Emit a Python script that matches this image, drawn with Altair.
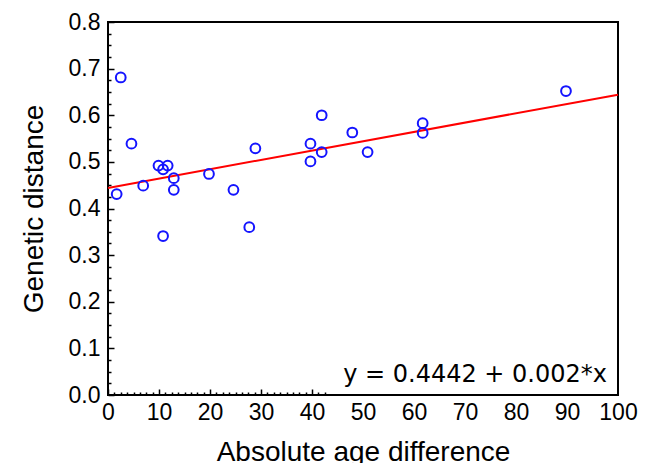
import altair as alt
import pandas as pd

# Data
age_diff = [1.7, 2.5, 4.6, 6.9, 9.9, 11.7, 10.8, 12.9, 12.9, 10.8, 19.8, 24.6,
            27.7, 28.9, 39.7, 39.7, 41.9, 41.9, 47.9, 50.9, 61.7, 61.7, 89.8]
gen_dist = [0.431, 0.681, 0.539, 0.449, 0.492, 0.492, 0.484, 0.465, 0.440, 0.341,
            0.474, 0.440, 0.360, 0.529, 0.539, 0.501, 0.521, 0.600, 0.563, 0.521,
            0.583, 0.562, 0.652]

intercept = 0.4442
slope = 0.002
line_x = [0, 100]

x_major = [0, 10, 20, 30, 40, 50, 60, 70, 80, 90, 100]
y_major = [0.0, 0.1, 0.2, 0.3, 0.4, 0.5, 0.6, 0.7, 0.8]
x_major_ticks = [0, 10, 20, 30, 40]
x_minor_ticks = [1.25, 2.5, 3.75, 5, 6.25, 7.5, 8.75,
                 11.25, 12.5, 13.75, 15, 16.25, 17.5, 18.75,
                 21.25, 22.5, 23.75, 25, 26.25, 27.5, 28.75,
                 31.25, 32.5, 33.75, 35, 36.25, 37.5, 38.75,
                 41.25, 42.5]
y_minor_ticks = [0.025, 0.05, 0.075, 0.125, 0.15, 0.175, 0.225, 0.25, 0.275,
                 0.325, 0.35, 0.375, 0.425, 0.45, 0.475, 0.525, 0.55, 0.575,
                 0.625, 0.65, 0.675, 0.725, 0.75, 0.775]
equation = "y = 0.4442 + 0.002*x"

pts = pd.DataFrame({"x": age_diff, "y": gen_dist})
fit = pd.DataFrame({"x": line_x, "y": [intercept + slope * v for v in line_x]})

FONT = "Liberation Sans"
xs = alt.Scale(domain=[0, 100], nice=False, zero=False)
ys = alt.Scale(domain=[0, 0.8], nice=False, zero=False)

points = alt.Chart(pts).mark_point(
    shape="circle", filled=False, color="#1414ff", size=95, strokeWidth=2, opacity=1
).encode(
    x=alt.X("x:Q", scale=xs, axis=alt.Axis(
        orient="bottom", values=x_major, ticks=False, domain=False, grid=False,
        labelFont=FONT, labelFontSize=23, labelColor="black", labelPadding=6,
        labelFlush=False, labelOverlap=False,
        title="Absolute age difference", titleFont=FONT, titleFontSize=28,
        titleFontWeight="normal", titleColor="black", titlePadding=14)),
    y=alt.Y("y:Q", scale=ys, axis=alt.Axis(
        orient="left", values=y_major, format=".1f", ticks=False, domain=False,
        grid=False, labelFont=FONT, labelFontSize=23, labelColor="black",
        labelPadding=8, labelFlush=False, labelOverlap=False,
        title="Genetic distance", titleFont=FONT, titleFontSize=28,
        titleFontWeight="normal", titleColor="black", titlePadding=20)),
)

line = alt.Chart(fit).mark_line(color="#ff0000", strokeWidth=2).encode(
    x=alt.X("x:Q", scale=xs, axis=alt.Axis(
        orient="bottom", values=x_major_ticks, offset=-6, tickSize=6,
        tickColor="black", tickWidth=1.5, labels=False, domain=False,
        grid=False, title=None)),
    y=alt.Y("y:Q", scale=ys, axis=alt.Axis(
        orient="left", values=y_major, offset=-6, tickSize=6,
        tickColor="black", tickWidth=1.5, labels=False, domain=False,
        grid=False, title=None)),
)

minor = alt.Chart(fit).mark_point(opacity=0).encode(
    x=alt.X("x:Q", scale=xs, axis=alt.Axis(
        orient="bottom", values=x_minor_ticks, offset=-3, tickSize=3,
        tickColor="black", tickWidth=1.5, labels=False, domain=False,
        grid=False, title=None)),
    y=alt.Y("y:Q", scale=ys, axis=alt.Axis(
        orient="left", values=y_minor_ticks, offset=-3, tickSize=3,
        tickColor="black", tickWidth=1.5, labels=False, domain=False,
        grid=False, title=None)),
)

label = alt.Chart(pd.DataFrame({"t": [equation]})).mark_text(
    align="right", baseline="middle", font="DejaVu Sans", fontSize=24,
    color="black"
).encode(text="t:N", x=alt.value(499), y=alt.value(353))

chart = alt.layer(line, minor, points, label).resolve_axis(
    x="independent", y="independent"
).properties(
    width=510, height=373,
    autosize=alt.AutoSizeParams(type="none"),
    padding={"left": 100, "top": 14, "right": 24, "bottom": 68},
    background="white",
).configure_view(stroke="black", strokeWidth=2)

chart.save("out.html", embed_options={"renderer": "svg", "actions": False})
